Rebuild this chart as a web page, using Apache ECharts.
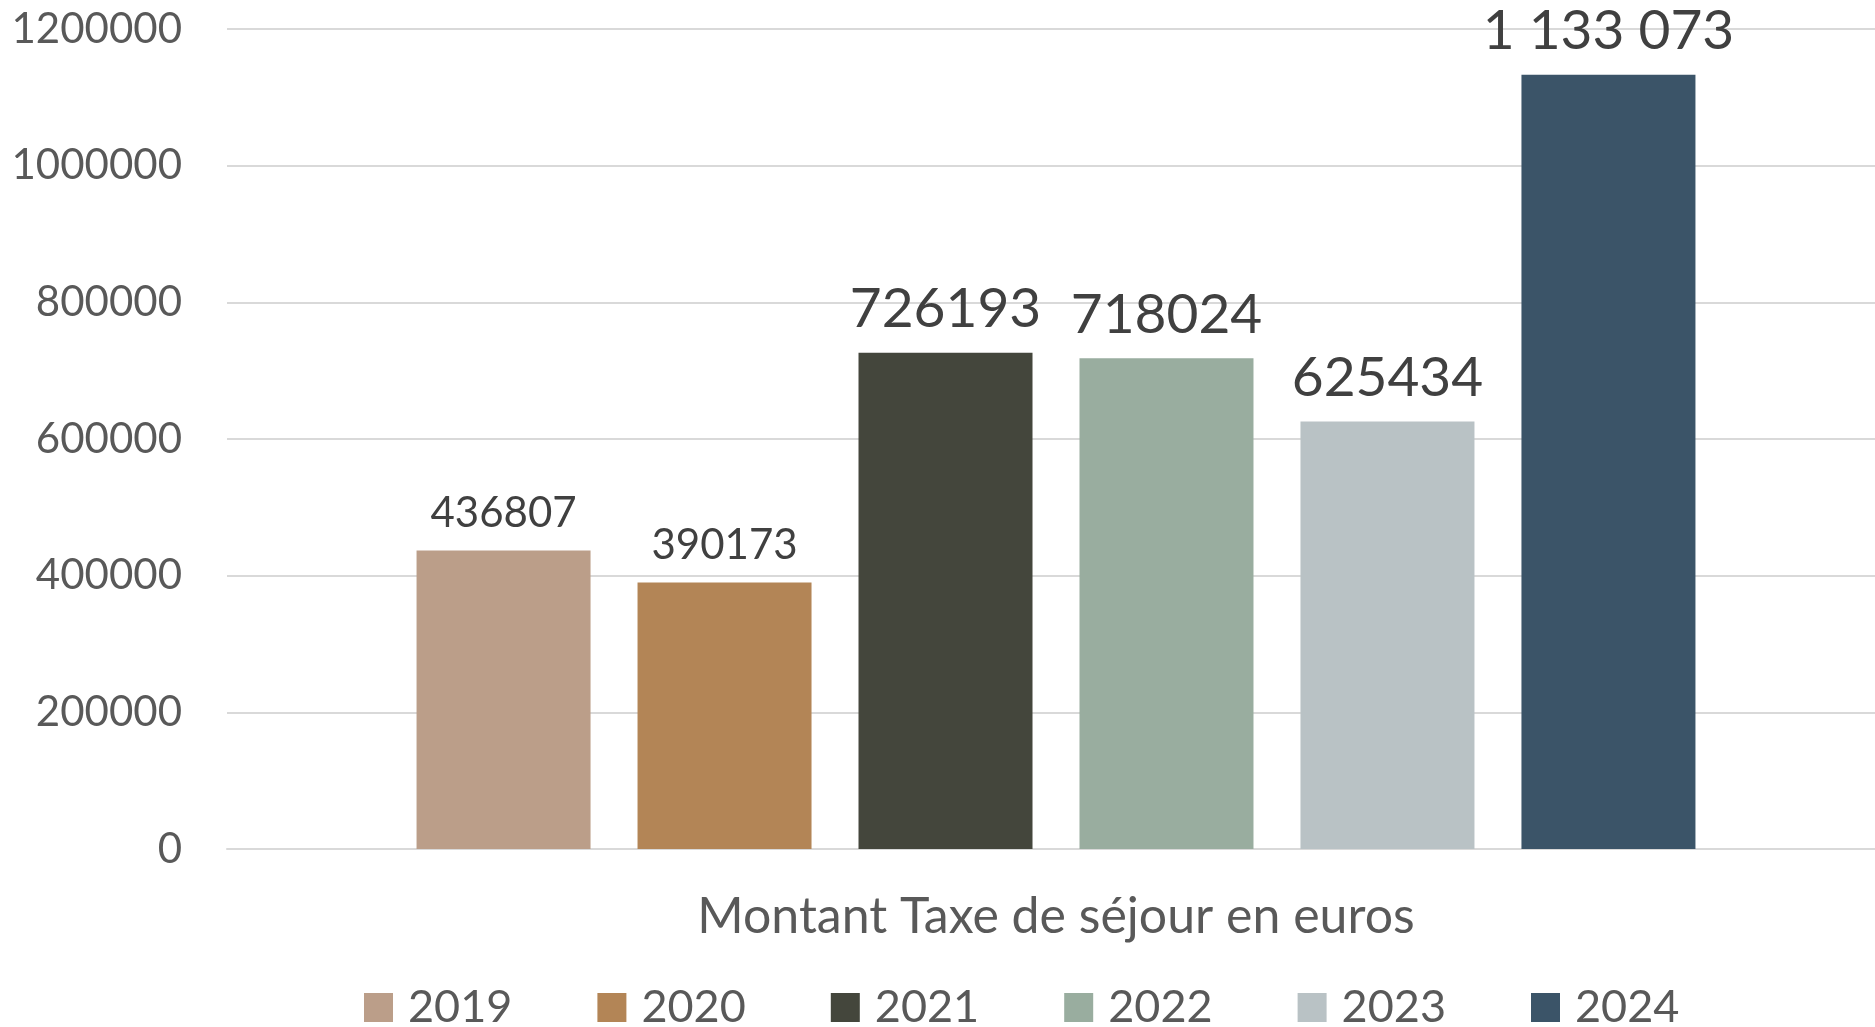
<!DOCTYPE html>
<html>
<head>
<meta charset="utf-8">
<style>
  html, body { margin: 0; padding: 0; background: #ffffff; }
  #chart { width: 1875px; height: 1027px; }
</style>
<script src="https://cdn.jsdelivr.net/npm/echarts@6/dist/echarts.min.js"></script>
</head>
<body>
<div id="chart"></div>
<script>
// ---- data ----
const category = ['Montant Taxe de séjour en euros'];
const years = ['2019', '2020', '2021', '2022', '2023', '2024'];
const values = [436807, 390173, 726193, 718024, 625434, 1133073];
const valueLabels = ['436807', '390173', '726193', '718024', '625434', '1 133 073'];
const yTickLabels = ['0', '200000', '400000', '600000', '800000', '1000000', '1200000'];
const yTicks = { min: 0, max: 1200000, interval: 200000 };

// ---- styles ----
const colors = ['#BB9E89', '#B38556', '#44463C', '#99AD9F', '#B9C2C5', '#3B5468'];
const labelFontSizes = [42, 42, 55, 55, 55, 55];
const FONT = 'Lato';

const chart = echarts.init(document.getElementById('chart'), null, { renderer: 'canvas' });

const series = years.map((y, i) => ({
  name: y,
  type: 'bar',
  data: [values[i]],
  barWidth: 174,
  barGap: '27%',
  itemStyle: { color: colors[i] },
  label: {
    show: true,
    position: 'top',
    distance: 16,
    formatter: () => valueLabels[i],
    color: '#404040',
    fontFamily: FONT,
    fontSize: labelFontSizes[i]
  }
}));

chart.setOption({
  animation: false,
  backgroundColor: '#ffffff',
  color: colors,
  grid: { left: 227, right: -10, top: 29, bottom: 178, outerBoundsMode: 'none', containLabel: false },
  legend: {
    data: years,
    left: 359,
    top: 980,
    itemWidth: 29,
    itemHeight: 29,
    itemGap: 85,
    icon: 'rect',
    textStyle: { color: '#595959', fontFamily: FONT, fontSize: 45, padding: [0, 0, 0, 10] }
  },
  xAxis: {
    type: 'category',
    data: category,
    axisLine: { show: true, lineStyle: { color: '#D9D9D9', width: 2 } },
    axisTick: { show: false },
    axisLabel: { color: '#595959', fontFamily: FONT, fontSize: 50, margin: 43 }
  },
  yAxis: {
    type: 'value',
    min: yTicks.min,
    max: yTicks.max,
    interval: yTicks.interval,
    axisLine: { show: false },
    axisTick: { show: false },
    splitLine: { lineStyle: { color: '#D9D9D9', width: 2 } },
    axisLabel: {
      color: '#595959', fontFamily: FONT, fontSize: 42, margin: 45,
      formatter: (v) => yTickLabels[Math.round((v - yTicks.min) / yTicks.interval)]
    }
  },
  series: series
});
</script>
</body>
</html>
